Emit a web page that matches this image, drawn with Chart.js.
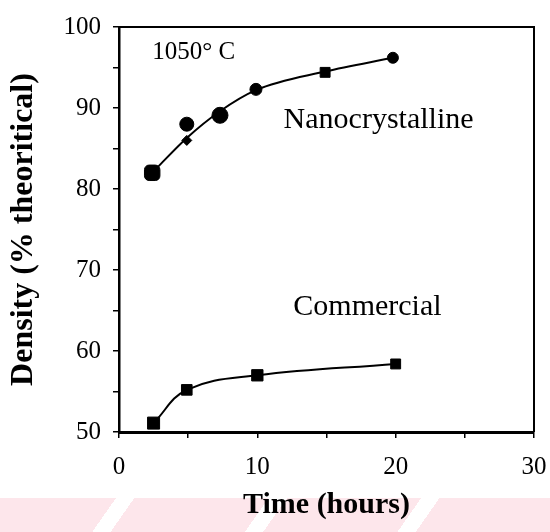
<!DOCTYPE html>
<html>
<head>
<meta charset="utf-8">
<script src="https://cdn.jsdelivr.net/npm/chart.js@4"></script>
<style>
  body { margin: 0; background: #fff; }
  #wrap { position: relative; width: 550px; height: 532px; overflow: hidden; }
  #band {
    position: absolute; left: 0; right: 0; top: 498px; bottom: 0;
    background: repeating-linear-gradient(-55deg, #fde6eb 0 110px, #fff 110px 125px);
  }
  canvas { position: absolute; left: 0; top: 0; }
</style>
</head>
<body>
<div id="wrap">
  <div id="band"></div>
  <canvas id="densityChart" width="550" height="532"></canvas>
</div>
<script>
const ctx = document.getElementById('densityChart').getContext('2d');

// measured points (time in hours, density in % theoretical)
const nanoTime = [2.4, 4.9, 4.9, 7.3, 9.9, 14.9, 19.8];
const nanoDensity = [82.0, 88.0, 86.0, 89.1, 92.3, 94.4, 96.2];
const nanoStyle = ['rectRounded', 'circle', 'rectRot', 'circle', 'circle', 'rect', 'circle'];
const nanoSize = [9, 7, 5, 8, 6, 7, 5.5];

const commTime = [2.5, 4.9, 10.0, 20.0];
const commDensity = [51.1, 55.2, 57.0, 58.4];
const commSize = [8.5, 7.5, 8, 7];

// smooth trend curves drawn through the data
const nanoFitTime = [2.4, 4.9, 7.3, 9.9, 14.9, 19.8];
const nanoFitDensity = [82.0, 86.3, 89.6, 92.2, 94.5, 96.2];
const commFitTime = [2.5, 4.9, 10.0, 20.0];
const commFitDensity = [51.1, 55.2, 57.0, 58.4];

const notes = [
    { text: '1050° C', x: 2.4, y: 96.9, size: 25 },
    { text: 'Nanocrystalline', x: 11.9, y: 88.5, size: 30 },
    { text: 'Commercial', x: 12.6, y: 65.4, size: 30 }
];

const toXY = (xs, ys) => xs.map((x, i) => ({ x: x, y: ys[i] }));

const framePlugin = {
    id: 'frame',
    afterDatasetsDraw(chart) {
        const { ctx, chartArea, scales } = chart;
        ctx.save();
        ctx.strokeStyle = '#000';
        ctx.lineWidth = 2;
        ctx.beginPath();
        ctx.moveTo(chartArea.left, chartArea.top);
        ctx.lineTo(chartArea.right, chartArea.top);
        ctx.lineTo(chartArea.right, chartArea.bottom);
        ctx.stroke();
        ctx.fillStyle = '#000';
        ctx.textBaseline = 'middle';
        ctx.textAlign = 'left';
        for (const n of notes) {
            ctx.font = n.size + 'px "Liberation Serif", serif';
            ctx.fillText(n.text, scales.x.getPixelForValue(n.x), scales.y.getPixelForValue(n.y));
        }
        ctx.restore();
    }
};

const tickFont = { family: '"Liberation Serif", serif', size: 25 };

new Chart(ctx, {
    type: 'scatter',
    data: {
        datasets: [
            {
                data: toXY(nanoFitTime, nanoFitDensity),
                showLine: true,
                borderColor: '#000',
                borderWidth: 2,
                pointRadius: 0,
                cubicInterpolationMode: 'monotone'
            },
            {
                data: toXY(commFitTime, commFitDensity),
                showLine: true,
                borderColor: '#000',
                borderWidth: 2,
                pointRadius: 0,
                tension: 0.4
            },
            {
                data: toXY(nanoTime, nanoDensity),
                pointStyle: nanoStyle,
                pointRadius: nanoSize,
                backgroundColor: '#000',
                borderColor: '#000'
            },
            {
                data: toXY(commTime, commDensity),
                pointStyle: 'rect',
                pointRadius: commSize,
                backgroundColor: '#000',
                borderColor: '#000'
            }
        ]
    },
    options: {
        responsive: false,
        animation: false,
        layout: { padding: { left: 4, right: 16, top: 27, bottom: 0 } },
        scales: {
            x: {
                type: 'linear',
                min: 0, max: 30,
                afterFit: s => { s.height = 100; s.paddingLeft = 0; s.paddingRight = 0; },
                border: { display: true, color: '#000', width: 3 },
                grid: { drawOnChartArea: false, drawTicks: true, tickLength: 6, color: '#000', lineWidth: 1.5 },
                ticks: {
                    stepSize: 5, color: '#000', font: tickFont, padding: 14,
                    callback: v => (v % 10 === 0 ? v : '')
                },
                title: {
                    display: true, text: 'Time (hours)', color: '#000',
                    font: { family: '"Liberation Serif", serif', size: 30, weight: 'bold' },
                    padding: { top: 0, bottom: 9 }
                }
            },
            y: {
                min: 50, max: 100,
                afterFit: s => { s.width = 115; },
                border: { display: true, color: '#000', width: 2.5 },
                grid: { drawOnChartArea: false, drawTicks: true, tickLength: 6, color: '#000', lineWidth: 1.5 },
                ticks: {
                    stepSize: 5, color: '#000', font: tickFont, padding: 12,
                    callback: v => (v % 10 === 0 ? v : '')
                },
                title: {
                    display: true, text: 'Density (% theoritical)', color: '#000',
                    font: { family: '"Liberation Serif", serif', size: 32, weight: 'bold' },
                    padding: { top: 1, bottom: 0 }
                }
            }
        },
        plugins: { legend: { display: false }, tooltip: { enabled: false } }
    },
    plugins: [framePlugin]
});
</script>
</body>
</html>
